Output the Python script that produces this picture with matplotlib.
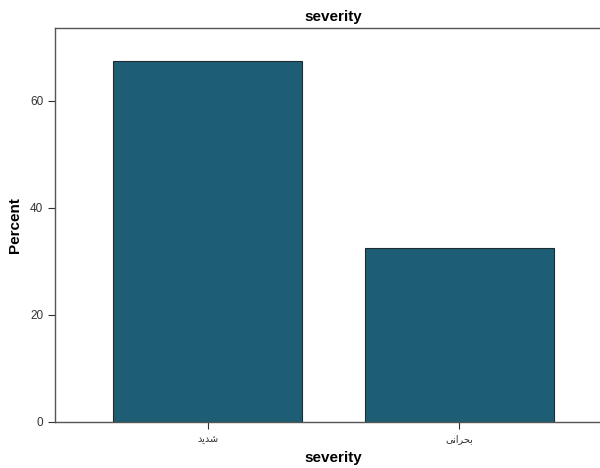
import matplotlib
matplotlib.use('Agg')
import matplotlib.pyplot as plt

categories = ['شدید', 'بحرانی']
percent = [67.5, 32.5]
yticks = [0, 20, 40, 60]

# tiny arabic shaping table for the letters used: isol, fin, init, med
forms = {
    'ش': ('\ufeb5', '\ufeb6', '\ufeb7', '\ufeb8'),
    'د': ('\ufea9', '\ufeaa', None, None),
    'ی': ('\ufbfc', '\ufbfd', '\ufbfe', '\ufbff'),
    'ب': ('\ufe8f', '\ufe90', '\ufe91', '\ufe92'),
    'ح': ('\ufea1', '\ufea2', '\ufea3', '\ufea4'),
    'ر': ('\ufead', '\ufeae', None, None),
    'ا': ('\ufe8d', '\ufe8e', None, None),
    'ن': ('\ufee5', '\ufee6', '\ufee7', '\ufee8'),
}

def shape(s):
    out = []
    for i, c in enumerate(s):
        f = forms[c]
        dual = f[2] is not None
        prev = i > 0 and forms[s[i-1]][2] is not None
        nxt = i < len(s) - 1 and dual
        if prev and nxt:
            out.append(f[3])
        elif prev:
            out.append(f[1])
        elif nxt:
            out.append(f[2])
        else:
            out.append(f[0])
    return ''.join(reversed(out))

plt.rcParams['font.family'] = ['Liberation Sans', 'DejaVu Sans']

fig = plt.figure(figsize=(6, 4.68), dpi=100)
ax = fig.add_axes([0.0917, 0.0983, 0.927, 0.842])

x = list(range(len(categories)))
ax.bar(x, percent, width=0.75, color='#1d5e74', edgecolor='#1b2b30', linewidth=0.8)

ax.set_xlim(-0.606, 1.604)
ax.set_ylim(0, 73.6)
ax.set_yticks(yticks)
ax.set_xticks(x)
ax.set_xticklabels([shape(c) for c in categories], family=['DejaVu Sans'], fontsize=7)
ax.tick_params(axis='y', labelsize=8.5, length=5, colors='#333333')
ax.tick_params(axis='x', length=5, colors='#333333')

for s in ['left', 'top', 'bottom']:
    ax.spines[s].set_color('#555555')
    ax.spines[s].set_linewidth(1.0)
ax.spines['right'].set_visible(False)

ax.set_title('severity', fontsize=11, fontweight='bold', pad=5)
ax.set_xlabel('severity', fontsize=11, fontweight='bold', labelpad=5)
ax.set_ylabel('Percent', fontsize=11, fontweight='bold', labelpad=6)

fig.savefig('out.png', dpi=100)
